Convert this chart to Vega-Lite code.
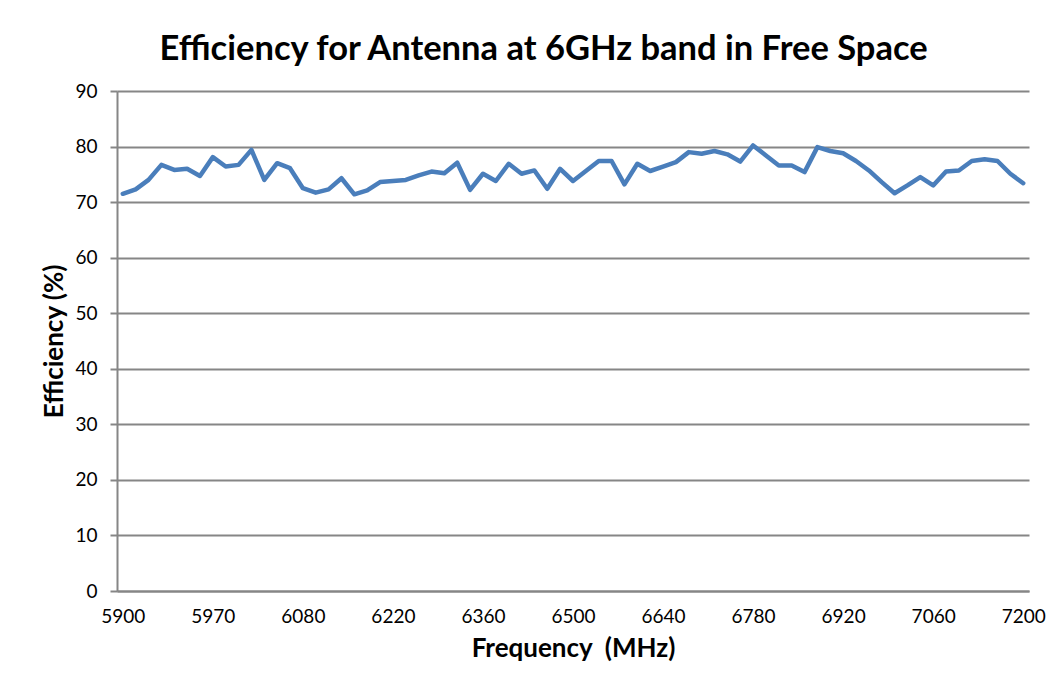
{
  "$schema": "https://vega.github.io/schema/vega-lite/v6.json",
  "width": 912,
  "height": 500,
  "autosize": {"type": "none"},
  "padding": {"left": 117, "top": 91, "right": 27, "bottom": 93},
  "background": "white",
  "title": {
    "text": "Efficiency for Antenna at 6GHz band in Free Space",
    "font": "Lato",
    "fontSize": 34.5,
    "fontWeight": "bold",
    "color": "#000000",
    "anchor": "middle",
    "frame": "bounds",
    "offset": 15
  },
  "data": {
    "values": [
      {"freq": 5900, "eff": 71.5}, {"freq": 5910, "eff": 72.3}, {"freq": 5920, "eff": 74.0}, {"freq": 5930, "eff": 76.7},
      {"freq": 5940, "eff": 75.8}, {"freq": 5950, "eff": 76.0}, {"freq": 5960, "eff": 74.7}, {"freq": 5970, "eff": 78.1},
      {"freq": 5980, "eff": 76.4}, {"freq": 5990, "eff": 76.7}, {"freq": 6000, "eff": 79.4}, {"freq": 6020, "eff": 74.0},
      {"freq": 6040, "eff": 77.0}, {"freq": 6060, "eff": 76.1}, {"freq": 6080, "eff": 72.5}, {"freq": 6100, "eff": 71.7},
      {"freq": 6120, "eff": 72.3}, {"freq": 6140, "eff": 74.3}, {"freq": 6160, "eff": 71.4}, {"freq": 6180, "eff": 72.1},
      {"freq": 6200, "eff": 73.6}, {"freq": 6220, "eff": 73.8}, {"freq": 6240, "eff": 74.0}, {"freq": 6260, "eff": 74.8},
      {"freq": 6280, "eff": 75.5}, {"freq": 6300, "eff": 75.2}, {"freq": 6320, "eff": 77.1}, {"freq": 6340, "eff": 72.2},
      {"freq": 6360, "eff": 75.1}, {"freq": 6380, "eff": 73.8}, {"freq": 6400, "eff": 76.9}, {"freq": 6420, "eff": 75.1},
      {"freq": 6440, "eff": 75.7}, {"freq": 6460, "eff": 72.4}, {"freq": 6480, "eff": 76.0}, {"freq": 6500, "eff": 73.8},
      {"freq": 6520, "eff": 75.6}, {"freq": 6540, "eff": 77.4}, {"freq": 6560, "eff": 77.4}, {"freq": 6580, "eff": 73.2},
      {"freq": 6600, "eff": 76.9}, {"freq": 6620, "eff": 75.6}, {"freq": 6640, "eff": 76.4}, {"freq": 6660, "eff": 77.2},
      {"freq": 6680, "eff": 79.0}, {"freq": 6700, "eff": 78.7}, {"freq": 6720, "eff": 79.2}, {"freq": 6740, "eff": 78.6},
      {"freq": 6760, "eff": 77.3}, {"freq": 6780, "eff": 80.2}, {"freq": 6800, "eff": 78.4}, {"freq": 6820, "eff": 76.6},
      {"freq": 6840, "eff": 76.6}, {"freq": 6860, "eff": 75.4}, {"freq": 6880, "eff": 79.9}, {"freq": 6900, "eff": 79.2},
      {"freq": 6920, "eff": 78.8}, {"freq": 6940, "eff": 77.4}, {"freq": 6960, "eff": 75.7}, {"freq": 6980, "eff": 73.6},
      {"freq": 7000, "eff": 71.6}, {"freq": 7020, "eff": 73.0}, {"freq": 7040, "eff": 74.5}, {"freq": 7060, "eff": 73.0},
      {"freq": 7080, "eff": 75.5}, {"freq": 7100, "eff": 75.7}, {"freq": 7120, "eff": 77.4}, {"freq": 7140, "eff": 77.7},
      {"freq": 7160, "eff": 77.4}, {"freq": 7180, "eff": 75.1}, {"freq": 7200, "eff": 73.4}
    ]
  },
  "mark": {"type": "line", "color": "#4A7EBB", "strokeWidth": 4.5, "strokeJoin": "round", "strokeCap": "round"},
  "encoding": {
    "x": {
      "field": "freq",
      "type": "ordinal",
      "sort": "ascending",
      "scale": {"type": "point", "padding": 0.45},
      "axis": {
        "title": "Frequency\u00a0 (MHz)",
        "values": [5900, 5970, 6080, 6220, 6360, 6500, 6640, 6780, 6920, 7060, 7200],
        "labelAngle": 0,
        "labelFont": "Lato",
        "labelFontSize": 19,
        "labelColor": "#000000",
        "labelPadding": 16,
        "ticks": false,
        "tickSize": 0,
        "grid": false,
        "domainColor": "#868686",
        "domainWidth": 2,
        "titleFont": "Lato",
        "titleFontSize": 26,
        "titleFontWeight": "bold",
        "titleColor": "#000000",
        "titlePadding": 9
      }
    },
    "y": {
      "field": "eff",
      "type": "quantitative",
      "scale": {"domain": [0, 90], "nice": false, "zero": true},
      "axis": {
        "title": "Efficiency (%)",
        "values": [0, 10, 20, 30, 40, 50, 60, 70, 80, 90],
        "labelFont": "Lato",
        "labelFontSize": 19,
        "labelColor": "#000000",
        "labelPadding": 13,
        "tickSize": 7,
        "tickColor": "#868686",
        "tickWidth": 2,
        "domainColor": "#868686",
        "domainWidth": 2,
        "grid": true,
        "gridColor": "#868686",
        "gridWidth": 2,
        "titleFont": "Lato",
        "titleFontSize": 26,
        "titleFontWeight": "bold",
        "titleColor": "#000000",
        "titlePadding": 7
      }
    }
  },
  "config": {
    "view": {"stroke": null}
  }
}
